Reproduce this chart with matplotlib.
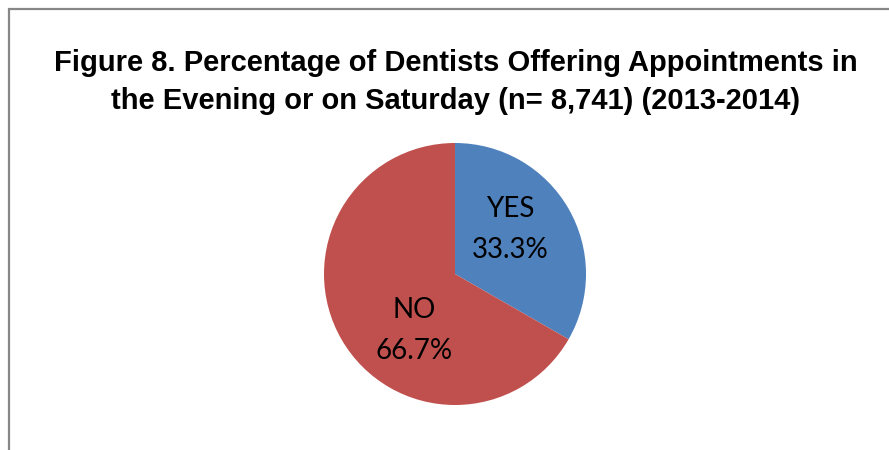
import numpy as np
import matplotlib.pyplot as plt
from matplotlib.patches import Rectangle

# ---------- Data ----------
labels = ["YES", "NO"]
shares = [33.3, 66.7]
colors = ["#4F81BD", "#C0504D"]

title = ("Figure 8. Percentage of Dentists Offering Appointments in\n"
         "the Evening or on Saturday (n= 8,741) (2013-2014)")

# ---------- Figure ----------
W, H = 889, 450
fig = plt.figure(figsize=(W / 100, H / 100), dpi=100)
fig.patch.set_facecolor("white")

# chart-area frame (runs off the right and bottom edges)
fig.patches.append(Rectangle((8.5 / W, -0.1), 1.2, 1.1 - 8.5 / H,
                             transform=fig.transFigure, fill=False,
                             edgecolor="#878787", linewidth=1.6))

fig.text(456 / W, 1 - 82 / H, title, ha="center", va="center",
         fontsize=21, fontweight="bold", family="Liberation Sans",
         linespacing=1.45)

# pie: centre (455, 274) px, radius 131 px
cx, cy, r = 455, 274, 131
ax = fig.add_axes([(cx - r) / W, (H - cy - r) / H, 2 * r / W, 2 * r / H])
wedges, _ = ax.pie(shares, colors=colors, startangle=90, counterclock=False,
                   radius=1.0, wedgeprops=dict(linewidth=0))
ax.set_xlim(-1, 1)
ax.set_ylim(-1, 1)
ax.set_aspect("equal")
ax.axis("off")

# label placement (polar offsets inside each wedge)
label_pos = [(0.54, 38.7), (0.53, 234)]
for lab, val, (d, ang) in zip(labels, shares, label_pos):
    a = np.deg2rad(ang)
    ax.text(d * np.cos(a), d * np.sin(a), f"{lab}\n{val:.1f}%",
            ha="center", va="center", fontsize=20, family="Lato",
            color="black", linespacing=1.7)

fig.savefig("out.png", dpi=100)
